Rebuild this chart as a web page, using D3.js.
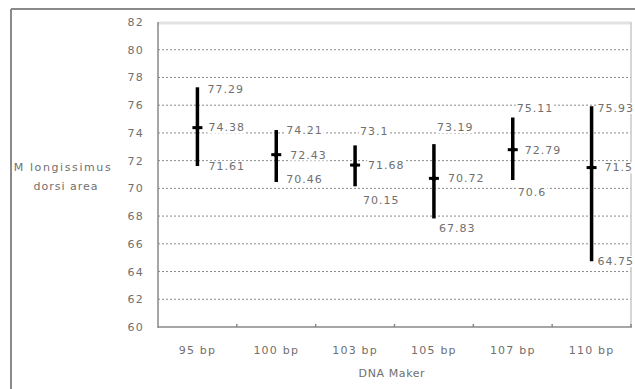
<!DOCTYPE html>
<html><head><meta charset="utf-8">
<script src="https://cdn.jsdelivr.net/npm/d3@7"></script>
<style>
html,body{margin:0;padding:0;background:#fff;}
svg{display:block;font-family:"DejaVu Sans",Arial,sans-serif;}
</style></head>
<body>
<svg id="c" width="635" height="389"></svg>
<script>
const categories = ["95 bp","100 bp","103 bp","105 bp","107 bp","110 bp"];
const upperValues = [77.29, 74.21, 73.1, 73.19, 75.11, 75.93];
const meanValues  = [74.38, 72.43, 71.68, 70.72, 72.79, 71.5];
const lowerValues = [71.61, 70.46, 70.15, 67.83, 70.6, 64.75];
const yTicks = [60,62,64,66,68,70,72,74,76,78,80,82];
const yTitle = ["M longissimus","dorsi area"];
const xTitle = "DNA Maker";
// label placement (layout only): [dx, dy] relative to bar x / value y
const upperOffsets = [[10,2],[10,0],[5,-14],[3,-17],[4,-9],[6,2]];
const meanOffsets  = [[11,0],[14,0],[13,0],[14,0],[12,0],[13,0]];
const lowerOffsets = [[11,0],[10,-3],[8,14],[5,10],[5,12],[6,0]];

const svg = d3.select("#c");
const L=158, R=631, T=22, B=327;
const x = d3.scaleBand().domain(categories).range([L,R]);
const y = d3.scaleLinear().domain([60,82]).range([B,T]);
const txt = "#707070";
const FS = 11, LS = 1.0;
const font = "DejaVu Sans, Arial, sans-serif";

// outer frame
svg.append("line").attr("x1",11).attr("x2",635).attr("y1",9).attr("y2",9).attr("stroke","#8a8a8a").attr("stroke-width",2);
svg.append("line").attr("x1",11).attr("x2",11).attr("y1",9).attr("y2",389).attr("stroke","#8a8a8a").attr("stroke-width",2);

// gridlines
svg.append("g").selectAll("line").data(yTicks.filter(v=>v>60 && v<82)).join("line")
  .attr("x1",L).attr("x2",R).attr("y1",d=>y(d)).attr("y2",d=>y(d))
  .attr("stroke","#8a8a8a").attr("stroke-width",1).attr("stroke-dasharray","2,2");
svg.append("line").attr("x1",L).attr("x2",R).attr("y1",y(82)+1).attr("y2",y(82)+1).attr("stroke","#e2e2e2").attr("stroke-width",3);
svg.append("line").attr("x1",R).attr("x2",R).attr("y1",T).attr("y2",B).attr("stroke","#c8c8c8").attr("stroke-width",1.5);

// y axis labels
const yAxis = svg.append("g").attr("transform",`translate(${L-11},0)`)
  .call(d3.axisLeft(y).tickValues(yTicks).tickSize(0).tickFormat(d3.format("d")));
yAxis.select(".domain").remove();
yAxis.selectAll("text").attr("fill",txt).attr("font-size",FS).attr("font-family",font).attr("letter-spacing",1.2);

// x axis
const xAxis = svg.append("g").attr("transform",`translate(0,${B})`)
  .call(d3.axisBottom(x).tickSize(0).tickPadding(19));
xAxis.select(".domain").remove();
xAxis.selectAll("text").attr("fill",txt).attr("font-size",FS).attr("font-family",font).attr("letter-spacing",1.2);

// axis lines
svg.append("line").attr("x1",L).attr("x2",L).attr("y1",T).attr("y2",B+1).attr("stroke","#888").attr("stroke-width",1.5);
svg.append("line").attr("x1",L).attr("x2",R+1).attr("y1",B).attr("y2",B).attr("stroke","#888").attr("stroke-width",1.5);
const bounds = categories.slice(1).map(c=>x(c)).concat([R]);
svg.append("g").selectAll("line").data(bounds).join("line")
  .attr("x1",d=>d).attr("x2",d=>d).attr("y1",B).attr("y2",B-3).attr("stroke","#888").attr("stroke-width",1.5);

// titles
svg.append("text").attr("x",63).attr("y",171).attr("text-anchor","middle").attr("fill",txt).attr("font-size",FS).attr("letter-spacing",1.6).text(yTitle[0]);
svg.append("text").attr("x",66).attr("y",190).attr("text-anchor","middle").attr("fill",txt).attr("font-size",FS).attr("letter-spacing",1.0).text(yTitle[1]);
svg.append("text").attr("x",x("105 bp")+x.bandwidth()/2-42).attr("y",377).attr("text-anchor","middle").attr("fill",txt).attr("font-size",FS).attr("letter-spacing",0.6).text(xTitle);

// labels data
const labels = [];
categories.forEach((c,i)=>{
  const cx = x(c)+x.bandwidth()/2;
  [[upperValues,upperOffsets],[meanValues,meanOffsets],[lowerValues,lowerOffsets]].forEach(([vals,offs])=>{
    labels.push({x:cx+offs[i][0], y:y(vals[i])+offs[i][1], t:String(vals[i])});
  });
});
const lg = svg.append("g");
const texts = lg.selectAll("text").data(labels).join("text")
  .attr("x",d=>d.x).attr("y",d=>d.y).attr("dy","0.35em")
  .attr("fill",txt).attr("font-size",FS).attr("letter-spacing",LS).text(d=>d.t);
texts.each(function(){
  const b=this.getBBox();
  lg.insert("rect","text").attr("x",b.x-1).attr("y",b.y+1).attr("width",b.width+2).attr("height",b.height-2).attr("fill","#fff");
});

// error bars
const bars = svg.append("g");
bars.selectAll("line.eb").data(categories).join("line").attr("class","eb")
  .attr("x1",d=>x(d)+x.bandwidth()/2).attr("x2",d=>x(d)+x.bandwidth()/2)
  .attr("y1",(d,i)=>y(upperValues[i])).attr("y2",(d,i)=>y(lowerValues[i]))
  .attr("stroke","#000").attr("stroke-width",3.5);
bars.selectAll("line.mk").data(categories).join("line").attr("class","mk")
  .attr("x1",d=>x(d)+x.bandwidth()/2-5).attr("x2",d=>x(d)+x.bandwidth()/2+5)
  .attr("y1",(d,i)=>y(meanValues[i])).attr("y2",(d,i)=>y(meanValues[i]))
  .attr("stroke","#000").attr("stroke-width",3);
bars.selectAll("path.dm").data(categories).join("path").attr("class","dm")
  .attr("d",(d,i)=>{const cx=x(d)+x.bandwidth()/2, cy=y(meanValues[i]); return `M${cx},${cy-4}L${cx+3},${cy}L${cx},${cy+4}L${cx-3},${cy}Z`;})
  .attr("fill","#000");
</script>
</body></html>
